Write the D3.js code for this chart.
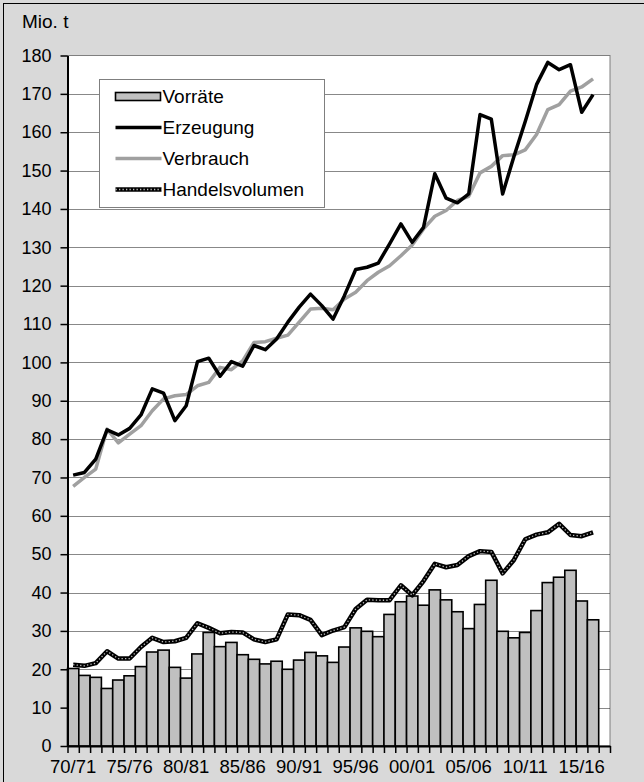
<!DOCTYPE html>
<html>
<head>
<meta charset="utf-8">
<script src="https://cdn.jsdelivr.net/npm/d3@7"></script>
<style>
  body { margin: 0; background: #d9d9d9; }
  text { font-family: Arial, "Liberation Sans", sans-serif; }
</style>
</head>
<body>
<div id="chart"></div>
<script>
// Wirtschaftsjahre (category axis)
var categories = [
  "70/71","71/72","72/73","73/74","74/75","75/76","76/77","77/78","78/79","79/80",
  "80/81","81/82","82/83","83/84","84/85","85/86","86/87","87/88","88/89","89/90",
  "90/91","91/92","92/93","93/94","94/95","95/96","96/97","97/98","98/99","99/00",
  "00/01","01/02","02/03","03/04","04/05","05/06","06/07","07/08","08/09","09/10",
  "10/11","11/12","12/13","13/14","14/15","15/16","16/17","17/18"
];
var xLabels = ["70/71","75/76","80/81","85/86","90/91","95/96","00/01","05/06","10/11","15/16"];
var yTicks = [0,10,20,30,40,50,60,70,80,90,100,110,120,130,140,150,160,170,180];

// Mio. t
var vorraete = [20.2,18.4,17.9,15.0,17.2,18.3,20.7,24.5,25.0,20.5,17.7,24.0,29.6,25.9,27.0,23.8,22.6,21.4,22.1,20.0,
  22.4,24.4,23.5,21.8,25.8,30.8,29.9,28.5,34.3,37.6,39.1,36.7,40.7,38.1,35.0,30.6,36.9,43.2,29.9,28.2,
  29.6,35.3,42.6,44.0,45.8,37.8,32.9];
var erzeugung = [70.6,71.3,74.8,82.4,81.1,82.8,86.3,93.1,92.0,84.8,88.7,100.2,101.1,96.4,100.2,99.0,104.4,103.3,106.1,110.5,
  114.4,117.8,114.8,111.3,117.4,124.2,124.8,125.9,130.9,136.1,131.3,135.2,149.2,142.8,141.6,143.9,164.6,163.4,143.9,153.7,
  162.8,172.4,178.2,176.3,177.6,165.2,169.8];
var verbrauch = [67.7,70.0,72.2,82.6,79.0,81.3,83.5,87.4,90.5,91.3,91.6,93.9,94.8,98.7,98.1,100.4,105.2,105.4,106.3,107.1,
  110.5,113.9,114.1,113.7,116.5,118.3,121.3,123.5,125.2,127.8,130.6,134.8,138.1,139.6,142.2,143.3,149.4,151.1,153.9,154.1,
  155.4,159.4,165.9,167.2,170.7,171.8,173.9];
var handel = [21.2,20.9,21.6,24.7,22.8,22.8,25.8,28.2,27.1,27.3,28.2,32.0,30.8,29.4,29.7,29.6,27.8,27.1,27.8,34.3,
  34.1,32.9,28.9,30.1,31.0,35.7,38.1,38.0,38.0,41.9,39.3,43.0,47.5,46.6,47.2,49.5,50.8,50.6,45.0,48.5,
  53.9,55.1,55.7,57.9,55.0,54.7,55.7];

var W = 644, H = 782,
    plotL = 67.5, plotR = 610, plotT = 55.5, plotB = 746,
    FONT = "Arial, 'Liberation Sans', sans-serif";

var svg = d3.select("#chart").append("svg")
    .attr("width", W).attr("height", H);

// outer frame (only top/left edges visible)
svg.append("rect").attr("x", 3.5).attr("y", 3.5).attr("width", W + 10).attr("height", H + 10)
    .attr("fill", "#d9d9d9").attr("stroke", "#000").attr("stroke-width", 1);

var x = d3.scaleBand().domain(categories).range([plotL, plotR]).padding(0);
var xi = d3.scaleLinear().domain([0, categories.length]).range([plotL, plotR]);
var y = d3.scaleLinear().domain([0, 180]).range([plotB, plotT]);

// plot area
svg.append("rect").attr("x", plotL).attr("y", plotT).attr("width", plotR - plotL).attr("height", plotB - plotT)
    .attr("fill", "#fff").attr("stroke", "#7f7f7f").attr("stroke-width", 1);

// gridlines (dotted)
svg.append("g").selectAll("line").data(yTicks.filter(function (d) { return d > 0 && d < 180; }))
    .enter().append("line")
    .attr("x1", plotL).attr("x2", plotR)
    .attr("y1", function (d) { return Math.round(y(d)) + 0.5; })
    .attr("y2", function (d) { return Math.round(y(d)) + 0.5; })
    .attr("stroke", "#111").attr("stroke-width", 1).attr("stroke-dasharray", "1,1");

// bars (Vorräte)
svg.append("g").selectAll("rect").data(vorraete).enter().append("rect")
    .attr("x", function (d, i) { return x(categories[i]); })
    .attr("y", function (d) { return y(d); })
    .attr("width", x.bandwidth())
    .attr("height", function (d) { return y(0) - y(d); })
    .attr("fill", "#c0c0c0").attr("stroke", "#000").attr("stroke-width", 1.6);

var line = d3.line()
    .x(function (d, i) { return x(categories[i]) + x.bandwidth() / 2; })
    .y(function (d) { return y(d); });

svg.append("path").datum(handel).attr("d", line)
    .attr("fill", "none").attr("stroke", "#000").attr("stroke-width", 4.5).attr("stroke-linejoin", "round");
svg.append("path").datum(handel).attr("d", line)
    .attr("fill", "none").attr("stroke", "#bbb").attr("stroke-width", 1.3).attr("stroke-dasharray", "1.3,2.2");

svg.append("path").datum(verbrauch).attr("d", line)
    .attr("fill", "none").attr("stroke", "#a0a0a0").attr("stroke-width", 3.5).attr("stroke-linejoin", "round");
svg.append("path").datum(erzeugung).attr("d", line)
    .attr("fill", "none").attr("stroke", "#000").attr("stroke-width", 3.5).attr("stroke-linejoin", "round");

// y axis
var yAxis = svg.append("g").attr("transform", "translate(" + plotL + ",0)")
    .call(d3.axisLeft(y).tickValues(yTicks).tickSize(7).tickPadding(9).tickSizeOuter(0));
yAxis.select(".domain").attr("stroke-width", 2);
yAxis.selectAll(".tick line").attr("stroke-width", 1.5);
yAxis.selectAll("text").attr("font-size", 18).attr("fill", "#000").attr("font-family", FONT);

// x axis: ticks on category boundaries, labels every five years
var xTickAxis = svg.append("g").attr("transform", "translate(0," + plotB + ")")
    .call(d3.axisBottom(xi).tickValues(d3.range(categories.length + 1)).tickSize(7).tickFormat("").tickSizeOuter(0));
xTickAxis.select(".domain").attr("stroke-width", 2);
xTickAxis.selectAll(".tick line").attr("stroke-width", 1.5);

var xLabAxis = svg.append("g").attr("transform", "translate(0," + plotB + ")")
    .call(d3.axisBottom(x).tickValues(xLabels).tickSize(0).tickPadding(14));
xLabAxis.select(".domain").remove();
xLabAxis.selectAll("text").attr("font-size", 18.5).attr("fill", "#000").attr("font-family", FONT);

svg.append("text").attr("x", 22).attr("y", 28).attr("font-size", 19).attr("font-family", FONT).text("Mio. t");

// legend
var lg = svg.append("g").attr("transform", "translate(99.5,79.5)");
lg.append("rect").attr("width", 225).attr("height", 128)
    .attr("fill", "#fff").attr("stroke", "#7f7f7f").attr("stroke-width", 1);
var items = [
  { name: "Vorräte", type: "bar" },
  { name: "Erzeugung", type: "line", color: "#000" },
  { name: "Verbrauch", type: "line", color: "#a0a0a0" },
  { name: "Handelsvolumen", type: "dash" }
];
items.forEach(function (it, i) {
  var cy = 17 + i * 31;
  if (it.type === "bar") {
    lg.append("rect").attr("x", 16).attr("y", cy - 4).attr("width", 45).attr("height", 8)
      .attr("fill", "#c0c0c0").attr("stroke", "#000").attr("stroke-width", 1.6);
  } else if (it.type === "line") {
    lg.append("line").attr("x1", 16).attr("x2", 62).attr("y1", cy).attr("y2", cy)
      .attr("stroke", it.color).attr("stroke-width", 3.5);
  } else {
    lg.append("line").attr("x1", 16).attr("x2", 62).attr("y1", cy).attr("y2", cy)
      .attr("stroke", "#000").attr("stroke-width", 4.5);
    lg.append("line").attr("x1", 16).attr("x2", 62).attr("y1", cy).attr("y2", cy)
      .attr("stroke", "#bbb").attr("stroke-width", 1.3).attr("stroke-dasharray", "1.3,2.2");
  }
  lg.append("text").attr("x", 63).attr("y", cy + 6).attr("font-size", 19).attr("font-family", FONT).text(it.name);
});
</script>
</body>
</html>
